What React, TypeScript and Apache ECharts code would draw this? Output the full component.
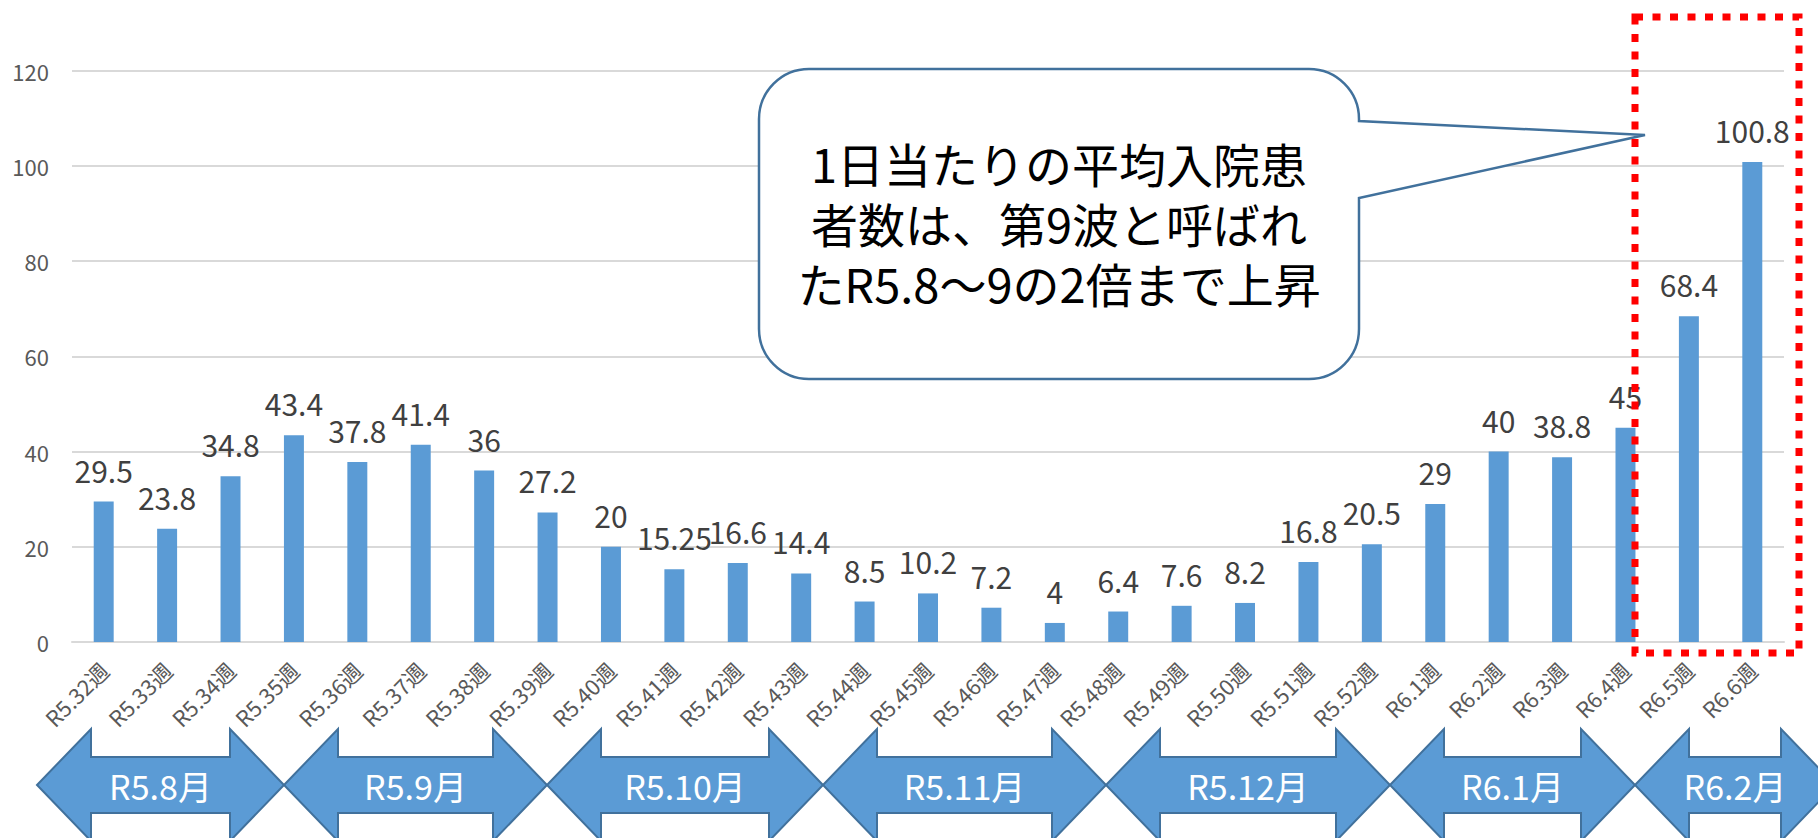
import React, { useEffect, useRef } from "react";
import * as echarts from "echarts";

// ---- data ----
const categories = [
  "R5.32週", "R5.33週", "R5.34週", "R5.35週", "R5.36週", "R5.37週", "R5.38週",
  "R5.39週", "R5.40週", "R5.41週", "R5.42週", "R5.43週", "R5.44週", "R5.45週",
  "R5.46週", "R5.47週", "R5.48週", "R5.49週", "R5.50週", "R5.51週", "R5.52週",
  "R6.1週", "R6.2週", "R6.3週", "R6.4週", "R6.5週", "R6.6週",
];
const values = [
  29.5, 23.8, 34.8, 43.4, 37.8, 41.4, 36, 27.2, 20, 15.25, 16.6, 14.4, 8.5, 10.2,
  7.2, 4, 6.4, 7.6, 8.2, 16.8, 20.5, 29, 40, 38.8, 45, 68.4, 100.8,
];
const yMin = 0;
const yMax = 120;
const yInterval = 20;
const monthLabels = ["R5.8月", "R5.9月", "R5.10月", "R5.11月", "R5.12月", "R6.1月", "R6.2月"];
const calloutLines = ["1日当たりの平均入院患", "者数は、第9波と呼ばれ", "たR5.8〜9の2倍まで上昇"];

// ---- layout (annotation shapes) ----
const arrowEdges = [37, 284, 547, 823, 1106, 1390, 1635, 1835];
const FONT = "'Noto Sans CJK JP', 'Noto Sans', sans-serif";

function roundedCalloutPath(): string {
  const l = 759, t = 69, r = 1359, b = 379, rad = 50, k = rad * 0.5523;
  const tipX = 1645, tipY = 135, p1 = 121, p2 = 198;
  return [
    `M ${l + rad} ${t}`,
    `L ${r - rad} ${t}`,
    `C ${r - rad + k} ${t} ${r} ${t + rad - k} ${r} ${t + rad}`,
    `L ${r} ${p1}`,
    `L ${tipX} ${tipY}`,
    `L ${r} ${p2}`,
    `L ${r} ${b - rad}`,
    `C ${r} ${b - rad + k} ${r - rad + k} ${b} ${r - rad} ${b}`,
    `L ${l + rad} ${b}`,
    `C ${l + rad - k} ${b} ${l} ${b - rad + k} ${l} ${b - rad}`,
    `L ${l} ${t + rad}`,
    `C ${l} ${t + rad - k} ${l + rad - k} ${t} ${l + rad} ${t}`,
    "Z",
  ].join(" ");
}

let registered = false;
function ensureShapes() {
  if (registered) return;
  echarts.graphic.registerShape("callout", echarts.graphic.extendPath(roundedCalloutPath(), {}) as any);
  registered = true;
}

function arrowGraphics(): any[] {
  const out: any[] = [];
  const cy = 785, headH = 56, bodyH = 28, headL = 54;
  for (let i = 0; i < monthLabels.length; i++) {
    const L = arrowEdges[i];
    const R = arrowEdges[i + 1];
    out.push({
      type: "polygon",
      z: 20,
      shape: {
        points: [
          [L, cy], [L + headL, cy - headH], [L + headL, cy - bodyH], [R - headL, cy - bodyH],
          [R - headL, cy - headH], [R, cy], [R - headL, cy + headH], [R - headL, cy + bodyH],
          [L + headL, cy + bodyH], [L + headL, cy + headH],
        ],
      },
      style: { fill: "#5B9BD5", stroke: "#41719C", lineWidth: 2 },
    });
    out.push({
      type: "text",
      z: 21,
      x: (L + R) / 2,
      y: cy,
      style: {
        text: monthLabels[i],
        fill: "#FFFFFF",
        fontSize: 34,
        fontFamily: FONT,
        align: "center",
        verticalAlign: "middle",
        textAlign: "center",
        textVerticalAlign: "middle",
      },
    });
  }
  return out;
}

function calloutTexts(): any[] {
  const cx = 1059, cy = 222, gap = 60;
  return calloutLines.map((line, i) => ({
    type: "text",
    z: 51,
    x: cx,
    y: cy + (i - 1) * gap,
    style: {
      text: line,
      fill: "#000000",
      fontSize: 47,
      lineHeight: 50,
      fontFamily: FONT,
      align: "center",
      verticalAlign: "middle",
      textAlign: "center",
      textVerticalAlign: "middle",
    },
  }));
}

export default function App() {
  const ref = useRef<HTMLDivElement>(null);
  useEffect(() => {
    if (!ref.current) return;
    ensureShapes();
    const chart = echarts.init(ref.current, undefined, { renderer: "svg" });
    chart.setOption({
      animation: false,
      backgroundColor: "#FFFFFF",
      grid: { left: 72, right: 34, top: 70.5, bottom: 196, containLabel: false },
      xAxis: {
        type: "category",
        data: categories,
        axisLine: { show: true, lineStyle: { color: "#D9D9D9", width: 2 } },
        axisTick: { show: false },
        axisLabel: {
          interval: 0,
          rotate: 45,
          fontSize: 22,
          color: "#595959",
          fontFamily: FONT,
          margin: 24,
        },
      },
      yAxis: {
        type: "value",
        min: yMin,
        max: yMax,
        interval: yInterval,
        axisLine: { show: false },
        axisTick: { show: false },
        splitLine: { lineStyle: { color: "#D9D9D9", width: 2 } },
        axisLabel: { fontSize: 22, color: "#595959", fontFamily: FONT, margin: 23 },
      },
      series: [
        {
          type: "bar",
          data: values,
          barWidth: "31.5%",
          itemStyle: { color: "#5B9BD5" },
          label: {
            show: true,
            position: "top",
            distance: 17,
            fontSize: 30,
            color: "#404040",
            fontFamily: FONT,
          },
        },
      ],
      graphic: [
        ...arrowGraphics(),
        {
          type: "callout",
          z: 50,
          x: 0,
          y: 0,
          style: { fill: "#FFFFFF", stroke: "#41719C", lineWidth: 2.5 },
        },
        ...calloutTexts(),
        {
          type: "rect",
          z: 100,
          shape: { x: 1635, y: 17, width: 164, height: 636 },
          style: { fill: "none", stroke: "#FF0000", lineWidth: 7, lineDash: [8, 9.5] },
        },
      ],
    });
    return () => chart.dispose();
  }, []);
  return (
    <div
      ref={ref}
      style={{ position: "fixed", left: 0, top: 0, width: 1818, height: 838, background: "#fff" }}
    />
  );
}
